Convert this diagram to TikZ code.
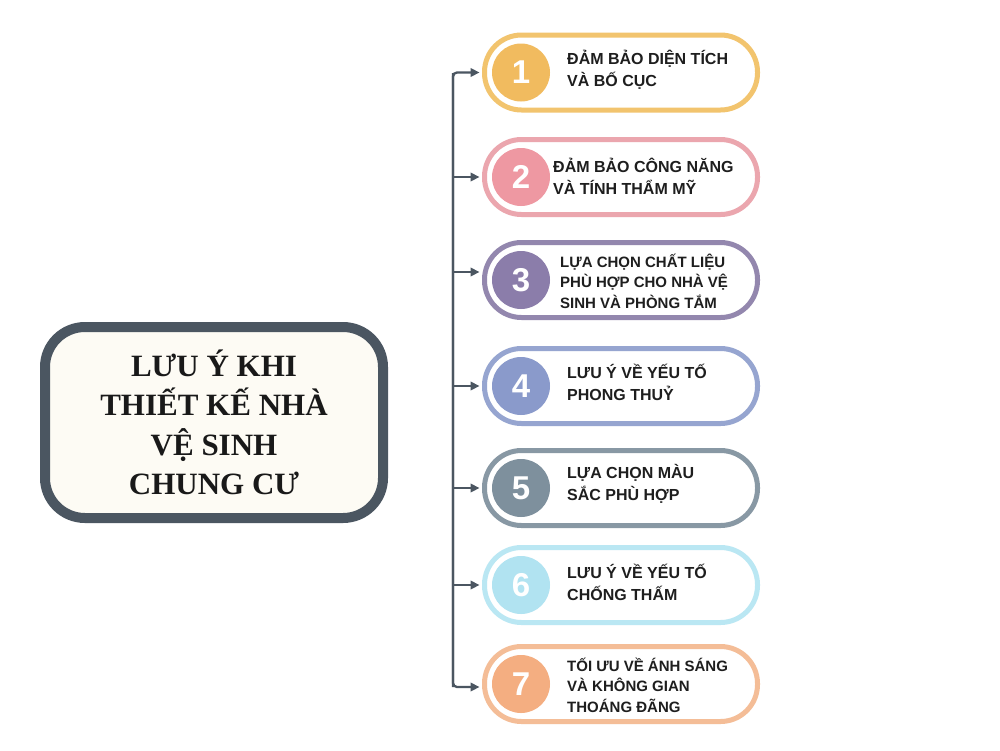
\documentclass[tikz,border=0pt]{standalone}
\usepackage{fontspec}
\setmainfont{Liberation Sans}
\newfontfamily\titlefont{Liberation Serif}
\usetikzlibrary{arrows.meta,calc}
\definecolor{slate}{HTML}{4B5661}
\definecolor{cream}{HTML}{FDFBF4}
\definecolor{txt}{HTML}{1E1E1E}
\definecolor{ringA}{HTML}{F2C46E}\definecolor{dotA}{HTML}{F1BB5F}
\definecolor{ringB}{HTML}{EBA6AE}\definecolor{dotB}{HTML}{EE98A2}
\definecolor{ringC}{HTML}{9387AE}\definecolor{dotC}{HTML}{8B7DAA}
\definecolor{ringD}{HTML}{96A5D0}\definecolor{dotD}{HTML}{8A9ACB}
\definecolor{ringE}{HTML}{8898A4}\definecolor{dotE}{HTML}{7E909D}
\definecolor{ringF}{HTML}{BAE7F3}\definecolor{dotF}{HTML}{B1E3F1}
\definecolor{ringG}{HTML}{F4BD97}\definecolor{dotG}{HTML}{F4AE81}
\tikzset{
  pill/.style={draw=#1, line width=5pt, fill=white, rounded corners=37pt,
    minimum width=273pt, minimum height=75pt, inner sep=0pt},
  numdot/.style={circle, fill=#1, minimum size=58pt, inner sep=0pt,
    text=white, font=\fontsize{33}{33}\selectfont\bfseries},
  itemtxt/.style={anchor=west, align=left, text=txt, inner sep=0pt,
    font=\fontsize{16}{22}\selectfont\bfseries},
  itemtxtsmall/.style={anchor=west, align=left, text=txt, inner sep=0pt,
    font=\fontsize{15}{20.5}\selectfont\bfseries},
  titlebox/.style={draw=slate, line width=10pt, fill=cream, rounded corners=40pt,
    minimum width=338pt, minimum height=191pt, inner sep=0pt, align=center,
    text=black!90, font=\titlefont\fontsize{31}{39.5}\selectfont\bfseries},
  link/.style={draw=slate, line width=2.3pt, -{Triangle[length=9pt,width=8.5pt]}},
}
\begin{document}
\begin{tikzpicture}[x=1pt,y=-1pt]
\useasboundingbox (0,0) rectangle (1000,750);
\fill[white] (0,0) rectangle (1000,750);

% title
\node[titlebox] (title) at (214,422.5) {LƯU Ý KHI\\THIẾT KẾ NHÀ\\VỆ SINH\\CHUNG CƯ};

% pills
\node[pill=ringA] (b1) at (621,72.5) {};
\node[pill=ringB] (b2) at (621,177) {};
\node[pill=ringC] (b3) at (621,280) {};
\node[pill=ringD] (b4) at (621,386) {};
\node[pill=ringE] (b5) at (621,488) {};
\node[pill=ringF] (b6) at (621,585) {};
\node[pill=ringG] (b7) at (621,684) {};

% number dots
\node[numdot=dotA] (n1) at (521,72.5) {1};
\node[numdot=dotB] (n2) at (521,177) {2};
\node[numdot=dotC] (n3) at (521,280) {3};
\node[numdot=dotD] (n4) at (521,386) {4};
\node[numdot=dotE] (n5) at (521,488) {5};
\node[numdot=dotF] (n6) at (521,585) {6};
\node[numdot=dotG] (n7) at (521,684) {7};

% texts
\node[itemtxt] (t1) at (567,70) {ĐẢM BẢO DIỆN TÍCH\\VÀ BỐ CỤC};
\node[itemtxt] (t2) at (553,176) {ĐẢM BẢO CÔNG NĂNG\\VÀ TÍNH THẨM MỸ};
\node[itemtxtsmall] (t3) at (560,281) {LỰA CHỌN CHẤT LIỆU\\PHÙ HỢP CHO NHÀ VỆ\\SINH VÀ PHÒNG TẮM};
\node[itemtxt] (t4) at (567,382) {LƯU Ý VỀ YẾU TỐ\\PHONG THUỶ};
\node[itemtxt] (t5) at (567,484) {LỰA CHỌN MÀU\\SẮC PHÙ HỢP};
\node[itemtxt] (t6) at (567,582) {LƯU Ý VỀ YẾU TỐ\\CHỐNG THẤM};
\node[itemtxtsmall] (t7) at (567,685) {TỐI ƯU VỀ ÁNH SÁNG\\VÀ KHÔNG GIAN\\THOÁNG ĐÃNG};

% connectors
\coordinate (trtop) at (453,73);
\coordinate (trbot) at (453,687);
\draw[link, rounded corners=4pt] (trbot) |- ($(b1.west)+(-2.5,0)$);
\draw[link, rounded corners=4pt] (trtop) |- ($(b7.west)+(-2.5,3)$);
\draw[link] ($(b2.west -| trtop)$) -- ($(b2.west)+(-2.5,0)$);
\draw[link] ($(b3.west -| trtop)+(0,-8)$) -- ($(b3.west)+(-2.5,-8)$);
\draw[link] ($(b4.west -| trtop)$) -- ($(b4.west)+(-2.5,0)$);
\draw[link] ($(b5.west -| trtop)$) -- ($(b5.west)+(-2.5,0)$);
\draw[link] ($(b6.west -| trtop)$) -- ($(b6.west)+(-2.5,0)$);
\end{tikzpicture}
\end{document}
